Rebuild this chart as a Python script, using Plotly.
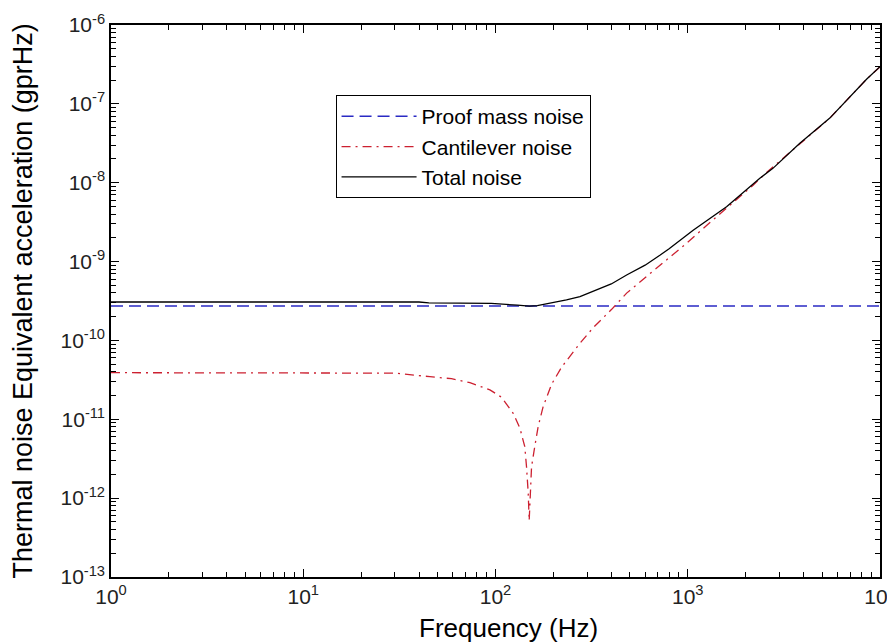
import plotly.graph_objects as go

# --- values ---
freq_proof = [1, 10000]
proof_noise = [2.73e-10, 2.73e-10]

freq_cant = [1, 10, 30, 45.6, 59, 73.6, 93.5, 107.6, 123.6, 134, 142, 145, 148, 149.7,
             154, 160, 166.7, 177, 196, 221, 254, 275, 322, 402, 481, 689, 986, 1413,
             2188, 2570, 3828, 5483, 8511, 10000]
cant_noise = [3.9e-11, 3.9e-11, 3.85e-11, 3.47e-11, 3.27e-11, 2.91e-11, 2.36e-11, 1.9e-11,
              1.19e-11, 7.7e-12, 4.5e-12, 2.5e-12, 1.15e-12, 5.2e-13,
              2.5e-12, 4.5e-12, 8.1e-12, 1.45e-11, 2.8e-11, 4.6e-11, 7.2e-11, 9.2e-11,
              1.45e-10, 2.48e-10, 3.98e-10, 8.2e-10, 1.71e-9, 3.7e-9,
              9.3e-9, 1.35e-8, 3.13e-8, 6.6e-8, 2.05e-7, 2.95e-7]

freq_total = [1, 40, 45, 95, 130, 150, 165, 184, 216, 234, 275, 349, 400, 481, 550, 600, 716,
              800, 1067, 1592, 2371, 2773, 3828, 5483, 8511, 10000]
total_noise = [3.07e-10, 3.07e-10, 3.0e-10, 2.95e-10, 2.8e-10, 2.73e-10, 2.76e-10, 2.9e-10,
               3.1e-10, 3.26e-10, 3.59e-10, 4.58e-10, 5.2e-10, 6.76e-10, 8.0e-10, 9.0e-10, 1.2e-9,
               1.45e-9, 2.5e-9, 4.97e-9, 1.14e-8, 1.52e-8, 3.16e-8, 6.6e-8, 2.05e-7, 2.96e-7]

x_ticks = [1, 10, 100, 1000, 10000]
x_ticktext = ["10<sup>0</sup>", "10<sup>1</sup>", "10<sup>2</sup>", "10<sup>3</sup>", "10<sup>4</sup>"]
y_ticks = [1e-13, 1e-12, 1e-11, 1e-10, 1e-9, 1e-8, 1e-7, 1e-6]
y_ticktext = ["10<sup>-13</sup>", "10<sup>-12</sup>", "10<sup>-11</sup>", "10<sup>-10</sup>",
              "10<sup>-9</sup>", "10<sup>-8</sup>", "10<sup>-7</sup>", "10<sup>-6</sup>"]

x_minor = [m * 10 ** d for d in range(0, 4) for m in range(2, 10)]
y_minor = [m * 10.0 ** d for d in range(-13, -6) for m in range(2, 10)]

font = "Arial, Liberation Sans, sans-serif"

fig = go.Figure()
fig.add_trace(go.Scatter(x=freq_proof, y=proof_noise, mode="lines", name="Proof mass noise",
                         line=dict(color="#2a2ac4", width=1.5, dash="12px,6px")))
fig.add_trace(go.Scatter(x=freq_cant, y=cant_noise, mode="lines", name="Cantilever noise",
                         line=dict(color="#cc2030", width=1.3, dash="9px,5px,2px,5px")))
fig.add_trace(go.Scatter(x=freq_total, y=total_noise, mode="lines", name="Total noise",
                         line=dict(color="black", width=1.3)))

axis_common = dict(showline=True, linecolor="black", linewidth=1.5, mirror="allticks",
                   ticks="inside", ticklen=8, tickcolor="black", showgrid=False,
                   zeroline=False, automargin=False, ticklabeloverflow="allow",
                   tickfont=dict(family=font, size=21, color="#222"))

# page body has an 8px margin, so the figure is offset inside the window
fig.update_layout(
    width=887, height=634,
    margin=dict(l=103, r=15, t=17, b=65),
    paper_bgcolor="white", plot_bgcolor="white",
    font=dict(family=font, color="black"),
    xaxis=dict(type="log", range=[0, 4], tickmode="array", tickvals=x_ticks, ticktext=x_ticktext,
               minor=dict(tickmode="array", tickvals=x_minor, ticks="inside", ticklen=5,
                          tickcolor="black", showgrid=False),
               **axis_common),
    yaxis=dict(type="log", range=[-13, -6], tickmode="array", tickvals=y_ticks, ticktext=y_ticktext,
               minor=dict(tickmode="array", tickvals=y_minor, ticks="inside", ticklen=5,
                          tickcolor="black", showgrid=False),
               **axis_common),
    legend=dict(x=0.292, y=0.873, xanchor="left", yanchor="top", bgcolor="white",
                bordercolor="black", borderwidth=1, font=dict(size=21, family=font),
                itemwidth=75),
)

# axis titles placed as in the reference
fig.add_annotation(text="Frequency (Hz)", xref="paper", yref="paper", x=0.517, y=-0.092,
                   xanchor="center", yanchor="middle", showarrow=False,
                   font=dict(size=26, family=font, color="black"))
fig.add_annotation(text="Thermal noise Equivalent acceleration (gprHz)", xref="paper", yref="paper",
                   x=-0.115, y=0.5, xanchor="center", yanchor="middle", textangle=-90,
                   showarrow=False, font=dict(size=27, family=font, color="black"))

fig.write_html("out.html")
